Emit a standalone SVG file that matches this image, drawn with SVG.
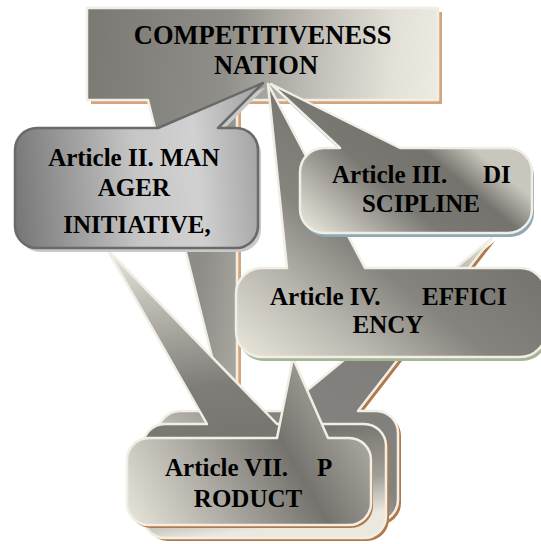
<svg xmlns="http://www.w3.org/2000/svg" width="541" height="544" viewBox="0 0 541 544">
  <style>
    .lbl { font-family: "Liberation Serif", "Times New Roman", serif; font-weight: bold; font-size: 25px; fill: #000; }
    .big { font-size: 26.5px; }
    .mid { text-anchor: middle; }
    .rim { stroke: #f1efe5; stroke-width: 2.5; stroke-linejoin: round; }
    .rim-dark { stroke: #6a6a6a; stroke-width: 2.5; stroke-linejoin: round; }
    .sh-tan { fill: #d6a47c; }
    .sh-brown { fill: #b07a4c; }
    .sh-blue { fill: #8ea8b4; }
    .sh-green { fill: #a5b596; }
    .sh-grey { fill: #c9c9c9; }
  </style>
  <defs>
    <!-- callout outlines: box plus pointer in one path -->
    <path id="p-nation" d="M87,8 H438 V100 H237 V405 L224,405 L148,100 H87 Z"/>
    <path id="p-manager" d="M37,128 H158 L263,83 L218,128 H236 A22,22 0 0 1 258,150 V226 A22,22 0 0 1 236,248 H37 A22,22 0 0 1 15,226 V150 A22,22 0 0 1 37,128 Z"/>
    <path id="p-discipline" d="M324,148 H340 L271,84 L400,148 H508 A24,24 0 0 1 532,172 V209 A24,24 0 0 1 508,233 H324 A24,24 0 0 1 300,209 V172 A24,24 0 0 1 324,148 Z"/>
    <path id="p-efficiency" d="M262,268 H287 L268,84 L365,268 H520 A26,26 0 0 1 546,294 V331 A26,26 0 0 1 520,357 H262 A26,26 0 0 1 236,331 V294 A26,26 0 0 1 262,268 Z"/>
    <path id="p-product-back" d="M180,411 H282 L492,238 L358,411 H376 A22,22 0 0 1 398,433 V500 A22,22 0 0 1 376,522 H180 A22,22 0 0 1 158,500 V433 A22,22 0 0 1 180,411 Z"/>
    <path id="p-product-mid" d="M165,424 H207 L107,249 L277,424 H364 A22,22 0 0 1 386,446 V516 A22,22 0 0 1 364,538 H165 A22,22 0 0 1 143,516 V446 A22,22 0 0 1 165,424 Z"/>
    <path id="p-product" d="M149,438 H277 L293,358 L328,438 H349 A22,22 0 0 1 371,460 V503 A22,22 0 0 1 349,525 H149 A22,22 0 0 1 127,503 V460 A22,22 0 0 1 149,438 Z"/>

    <linearGradient id="g-nation" gradientUnits="userSpaceOnUse" x1="87" y1="40" x2="438" y2="80">
      <stop offset="0" stop-color="#7a7974"/>
      <stop offset="0.4" stop-color="#8f8e88"/>
      <stop offset="0.65" stop-color="#c0beb6"/>
      <stop offset="0.87" stop-color="#e3e1d8"/>
      <stop offset="1" stop-color="#ecebe2"/>
    </linearGradient>
    <linearGradient id="g-manager" gradientUnits="userSpaceOnUse" x1="15" y1="190" x2="258" y2="170">
      <stop offset="0" stop-color="#787878"/>
      <stop offset="0.5" stop-color="#c6c6c6"/>
      <stop offset="0.75" stop-color="#d1d1d1"/>
      <stop offset="1" stop-color="#a6a6a6"/>
    </linearGradient>
    <linearGradient id="g-discipline" gradientUnits="userSpaceOnUse" x1="330" y1="250" x2="440" y2="120">
      <stop offset="0" stop-color="#e8e5da"/>
      <stop offset="0.3" stop-color="#a5a39c"/>
      <stop offset="0.5" stop-color="#7a7873"/>
      <stop offset="0.8" stop-color="#75736d"/>
      <stop offset="1" stop-color="#c8c6bd"/>
    </linearGradient>
    <linearGradient id="g-efficiency" gradientUnits="userSpaceOnUse" x1="236" y1="357" x2="400" y2="150">
      <stop offset="0" stop-color="#ebe8dd"/>
      <stop offset="0.35" stop-color="#b5b3ab"/>
      <stop offset="0.6" stop-color="#86847e"/>
      <stop offset="1" stop-color="#74726c"/>
    </linearGradient>
    <linearGradient id="g-product-back" gradientUnits="userSpaceOnUse" x1="492" y1="238" x2="300" y2="540">
      <stop offset="0" stop-color="#e6e4d9"/>
      <stop offset="0.15" stop-color="#b3b1a9"/>
      <stop offset="0.3" stop-color="#7e7c77"/>
      <stop offset="0.75" stop-color="#858380"/>
      <stop offset="1" stop-color="#d0cec4"/>
    </linearGradient>
    <linearGradient id="g-product-mid" gradientUnits="userSpaceOnUse" x1="107" y1="249" x2="150" y2="545">
      <stop offset="0" stop-color="#ebe9df"/>
      <stop offset="0.2" stop-color="#bdbbb3"/>
      <stop offset="0.5" stop-color="#7f7d78"/>
      <stop offset="0.7" stop-color="#77756f"/>
      <stop offset="0.88" stop-color="#a09e97"/>
      <stop offset="1" stop-color="#ebe8de"/>
    </linearGradient>
    <linearGradient id="g-product" gradientUnits="userSpaceOnUse" x1="127" y1="540" x2="371" y2="400">
      <stop offset="0" stop-color="#eeebe0"/>
      <stop offset="0.4" stop-color="#a3a19a"/>
      <stop offset="0.65" stop-color="#75736d"/>
      <stop offset="1" stop-color="#b9b7af"/>
    </linearGradient>
  </defs>

  <rect width="541" height="544" fill="#ffffff"/>

  <g id="node-nation">
    <use href="#p-nation" class="sh-tan" transform="translate(4,4)"/>
    <use href="#p-nation" class="rim" fill="url(#g-nation)"/>
    <text class="lbl big mid">
      <tspan x="266" y="44">COMPETITIVENESS</tspan>
      <tspan x="266" y="74">NATION</tspan>
    </text>
  </g>

  <g id="node-product-back">
    <use href="#p-product-back" class="sh-brown" transform="translate(3,3)"/>
    <use href="#p-product-back" class="rim" fill="url(#g-product-back)"/>
  </g>

  <g id="node-product-mid">
    <use href="#p-product-mid" class="sh-brown" transform="translate(3,3)"/>
    <use href="#p-product-mid" class="rim" fill="url(#g-product-mid)"/>
  </g>

  <g id="node-product">
    <use href="#p-product" class="sh-brown" transform="translate(2,3)"/>
    <use href="#p-product" class="rim" fill="url(#g-product)"/>
    <text class="lbl">
      <tspan x="165" y="476">Article VII.</tspan>
      <tspan x="317" y="476">P</tspan>
    </text>
    <text class="lbl mid" x="248" y="507">RODUCT</text>
  </g>

  <g id="node-manager">
    <use href="#p-manager" class="sh-grey" transform="translate(3,4)"/>
    <use href="#p-manager" class="rim-dark" fill="url(#g-manager)"/>
    <text class="lbl mid">
      <tspan x="137" y="166">Article II. MAN</tspan>
      <tspan x="137" y="196">AGER</tspan>
      <tspan x="137" y="233">INITIATIVE,</tspan>
    </text>
  </g>

  <g id="node-efficiency">
    <use href="#p-efficiency" class="sh-green" transform="translate(2,4)"/>
    <use href="#p-efficiency" class="rim" fill="url(#g-efficiency)"/>
    <text class="lbl">
      <tspan x="270" y="305">Article IV.</tspan>
      <tspan x="422" y="305">EFFICI</tspan>
    </text>
    <text class="lbl mid" x="388" y="333">ENCY</text>
  </g>

  <g id="node-discipline">
    <use href="#p-discipline" class="sh-blue" transform="translate(2,4)"/>
    <use href="#p-discipline" class="rim" fill="url(#g-discipline)"/>
    <text class="lbl">
      <tspan x="332" y="183">Article III.</tspan>
      <tspan x="483" y="183">DI</tspan>
    </text>
    <text class="lbl mid" x="421" y="212">SCIPLINE</text>
  </g>
</svg>
